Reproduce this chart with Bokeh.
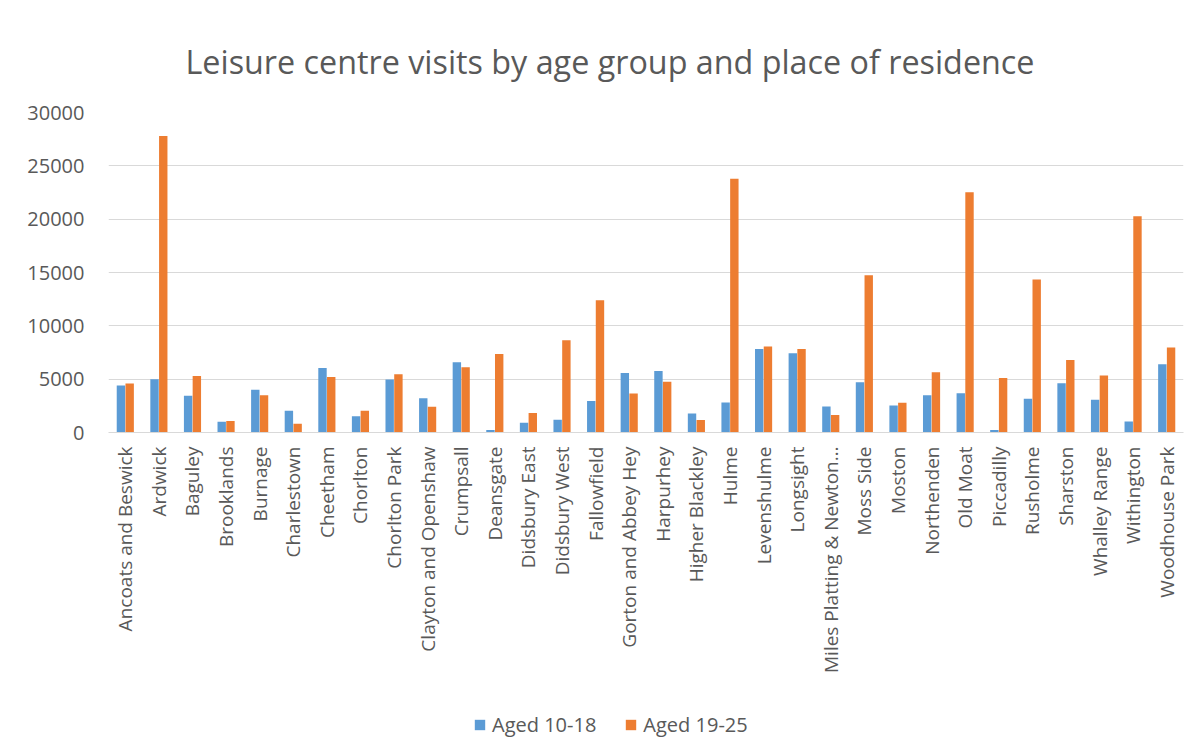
from bokeh.plotting import figure
from bokeh.models import ColumnDataSource, Legend, LegendItem, FixedTicker, Range1d
from bokeh.layouts import column
from bokeh.transform import dodge
from bokeh.embed import file_html
from bokeh.resources import INLINE
import math

categories = ["Ancoats and Beswick", "Ardwick", "Baguley", "Brooklands", "Burnage",
              "Charlestown", "Cheetham", "Chorlton", "Chorlton Park", "Clayton and Openshaw",
              "Crumpsall", "Deansgate", "Didsbury East", "Didsbury West", "Fallowfield",
              "Gorton and Abbey Hey", "Harpurhey", "Higher Blackley", "Hulme", "Levenshulme",
              "Longsight", "Miles Platting & Newton\u2026", "Moss Side", "Moston", "Northenden",
              "Old Moat", "Piccadilly", "Rusholme", "Sharston", "Whalley Range",
              "Withington", "Woodhouse Park"]
aged_10_18 = [4400, 5000, 3450, 1000, 4000, 2030, 6050, 1520, 4970, 3200,
              6590, 230, 920, 1200, 2950, 5570, 5760, 1780, 2820, 7820,
              7420, 2440, 4720, 2530, 3490, 3670, 230, 3170, 4620, 3080,
              1020, 6400]
aged_19_25 = [4600, 27800, 5290, 1080, 3490, 830, 5200, 2030, 5450, 2410,
              6110, 7350, 1830, 8660, 12400, 3650, 4750, 1180, 23800, 8070,
              7820, 1650, 14750, 2790, 5640, 22530, 5100, 14340, 6790, 5350,
              20280, 7960]
series_names = ["Aged 10-18", "Aged 19-25"]
y_ticks = [0, 5000, 10000, 15000, 20000, 25000, 30000]

BLUE = "#5B9BD5"
ORANGE = "#ED7D31"
TEXT = "#595959"
GRID = "#D9D9D9"
FONT = "Open Sans"

src = ColumnDataSource(dict(cat=categories, a=aged_10_18, b=aged_19_25))

p = figure(x_range=categories, y_range=Range1d(0, 30000),
           width=1190, height=705,
           output_backend="svg", toolbar_location=None,
           min_border_left=108, min_border_right=7, min_border_top=112,
           min_border_bottom=273)

p.title.text = "Leisure centre visits by age group and place of residence"
p.title.align = "left"
p.title.offset = 77
p.title.text_font = FONT
p.title.text_font_size = "32.3px"
p.title.text_font_style = "normal"
p.title.text_color = TEXT
p.title.standoff = 60

p.vbar(x=dodge("cat", -0.13, range=p.x_range), top="a", width=0.25,
       source=src, fill_color=BLUE, line_color=None)
p.vbar(x=dodge("cat", 0.13, range=p.x_range), top="b", width=0.25,
       source=src, fill_color=ORANGE, line_color=None)

p.outline_line_color = None
p.xgrid.grid_line_color = None
p.ygrid.grid_line_color = GRID
p.ygrid.grid_line_width = 1

p.yaxis.ticker = FixedTicker(ticks=y_ticks)
p.yaxis.axis_line_color = None
p.yaxis.major_tick_line_color = None
p.yaxis.minor_tick_line_color = None
p.yaxis.major_label_text_font = FONT
p.yaxis.major_label_text_font_size = "20px"
p.yaxis.major_label_text_color = TEXT
p.yaxis.major_label_standoff = 18

p.xaxis.axis_line_color = GRID
p.xaxis.major_tick_line_color = None
p.xaxis.minor_tick_line_color = None
p.xaxis.major_label_orientation = math.pi / 2
p.xaxis.major_label_text_font = FONT
p.xaxis.major_label_text_font_size = "19px"
p.xaxis.major_label_text_color = TEXT
p.xaxis.major_label_standoff = 8

# legend strip below the chart (zero-size proxy glyphs carry the legend swatches)
leg = figure(width=1190, height=50, output_backend="svg", toolbar_location=None,
             x_range=Range1d(0, 1), y_range=Range1d(0, 1),
             x_axis_location=None, y_axis_location=None,
             min_border=0)
leg.outline_line_color = None
leg.xgrid.grid_line_color = None
leg.ygrid.grid_line_color = None
proxy = ColumnDataSource(dict(x=[0.5], top=[0], bottom=[0]))
l1 = leg.vbar(x="x", top="top", bottom="bottom", width=0, source=proxy,
              fill_color=BLUE, line_color=None)
l2 = leg.vbar(x="x", top="top", bottom="bottom", width=0, source=proxy,
              fill_color=ORANGE, line_color=None)
legend = Legend(items=[LegendItem(label=series_names[0], renderers=[l1]),
                       LegendItem(label=series_names[1], renderers=[l2])],
                orientation="horizontal", location=(365, 17),
                label_text_font=FONT, label_text_font_size="20px",
                label_text_color=TEXT, glyph_width=13, glyph_height=13,
                spacing=28, label_standoff=6, border_line_color=None,
                background_fill_alpha=0, margin=0, padding=5)
leg.add_layout(legend, "center")

layout = column(p, leg, spacing=0)
open("out.html", "w").write(file_html(layout, INLINE))
